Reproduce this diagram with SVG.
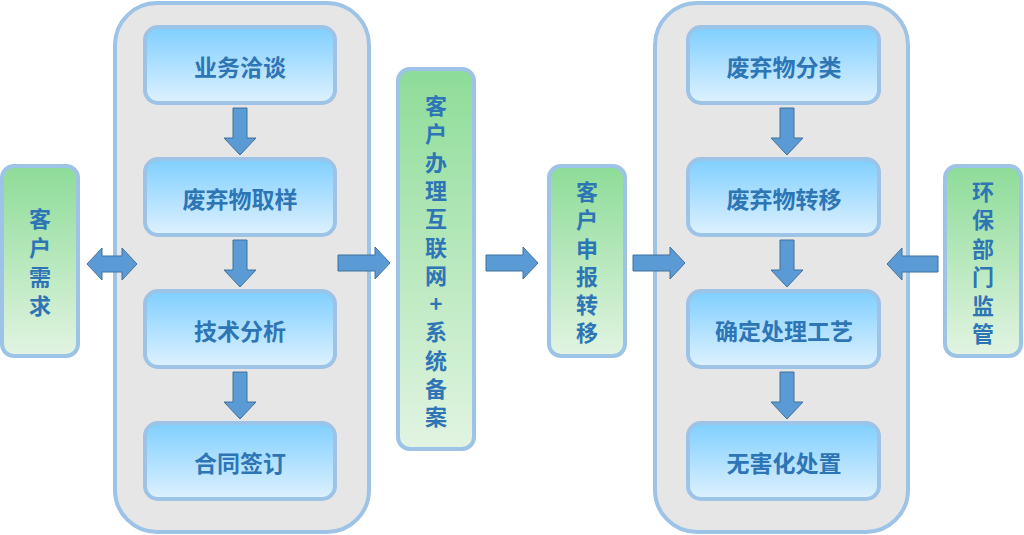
<svg xmlns="http://www.w3.org/2000/svg" width="1024" height="535" viewBox="0 0 1024 535">
<defs>
<linearGradient id="gb" x1="0" y1="0" x2="0" y2="1">
<stop offset="0" stop-color="#7fcfff"/>
<stop offset="1" stop-color="#def1ff"/>
</linearGradient>
<linearGradient id="gg" x1="0" y1="0" x2="0" y2="1">
<stop offset="0" stop-color="#8ddc98"/>
<stop offset="1" stop-color="#e2f4e2"/>
</linearGradient>
<path id="av" d="M-7,0 H7 V30 H16 L0,47 L-16,30 H-7 Z"/>
<path id="ah" d="M0,-8 H37 V-16 L52,0 L37,16 V8 H0 Z"/>
</defs>
<style>
.cont{fill:#e6e6e6;stroke:#9dc3e6;stroke-width:4}
.bn{fill:url(#gb);stroke:#9dc3e6;stroke-width:4}
.gn{fill:url(#gg);stroke:#9dc3e6;stroke-width:4}
.t{font-family:"Noto Sans CJK SC","Noto Sans",sans-serif;font-size:23px;font-weight:bold;fill:#2e75b6;text-anchor:middle;dominant-baseline:central}
.v{font-family:"Noto Sans CJK SC","Noto Sans",sans-serif;font-size:22px;font-weight:bold;fill:#2e75b6;text-anchor:middle;writing-mode:vertical-rl;text-orientation:upright}
.ar{fill:#5b9bd5;stroke:#41719c;stroke-width:1}
</style>
<rect width="1024" height="535" fill="#ffffff"/>
<g id="container-left"><rect class="cont" x="115" y="3" width="254" height="529" rx="42"/></g>
<g id="container-right"><rect class="cont" x="655" y="3" width="253" height="529" rx="42"/></g>

<g id="n-yewu"><rect class="bn" x="145" y="27" width="190" height="76" rx="13"/><text class="t" x="240" y="66">业务洽谈</text></g>
<g id="n-quyang"><rect class="bn" x="145" y="159" width="190" height="76" rx="13"/><text class="t" x="240" y="198">废弃物取样</text></g>
<g id="n-fenxi"><rect class="bn" x="145" y="291" width="190" height="76" rx="13"/><text class="t" x="240" y="330">技术分析</text></g>
<g id="n-hetong"><rect class="bn" x="145" y="423" width="190" height="76" rx="13"/><text class="t" x="240" y="462">合同签订</text></g>

<g id="n-fenlei"><rect class="bn" x="688" y="27" width="191" height="76" rx="13"/><text class="t" x="784" y="66">废弃物分类</text></g>
<g id="n-zhuanyi"><rect class="bn" x="688" y="159" width="191" height="76" rx="13"/><text class="t" x="784" y="198">废弃物转移</text></g>
<g id="n-gongyi"><rect class="bn" x="688" y="291" width="191" height="76" rx="13"/><text class="t" x="784" y="330">确定处理工艺</text></g>
<g id="n-chuzhi"><rect class="bn" x="688" y="423" width="191" height="76" rx="13"/><text class="t" x="784" y="462">无害化处置</text></g>

<g id="n-xuqiu"><rect class="gn" x="2" y="166" width="76" height="190" rx="12"/>
<text class="v" x="40" y="266" letter-spacing="7">客户需求</text></g>

<g id="n-beian"><rect class="gn" x="398" y="69" width="76" height="380" rx="12"/>
<text class="v" x="436" y="264.5" letter-spacing="6.3">客户办理互联网+系统备案</text></g>

<g id="n-shenbao"><rect class="gn" x="549" y="166" width="76" height="190" rx="12"/>
<text class="v" x="587" y="265.5" letter-spacing="6.3">客户申报转移</text></g>

<g id="n-jianguan"><rect class="gn" x="945" y="166" width="76" height="190" rx="12"/>
<text class="v" x="983" y="266" letter-spacing="6.5">环保部门监管</text></g>

<g id="connectors">
<use href="#av" class="ar" x="240" y="108"/>
<use href="#av" class="ar" x="240" y="240"/>
<use href="#av" class="ar" x="240" y="372"/>
<use href="#av" class="ar" x="787" y="108"/>
<use href="#av" class="ar" x="787" y="240"/>
<use href="#av" class="ar" x="787" y="372"/>
<path class="ar" d="M87,264 L102,248 V256 H122 V248 L137,264 L122,280 V272 H102 V280 Z"/>
<use href="#ah" class="ar" x="338" y="263"/>
<use href="#ah" class="ar" x="486" y="263"/>
<use href="#ah" class="ar" x="633" y="263"/>
<path class="ar" d="M938,256 H902 V248 L887,264 L902,280 V272 H938 Z"/>
</g>
</svg>
